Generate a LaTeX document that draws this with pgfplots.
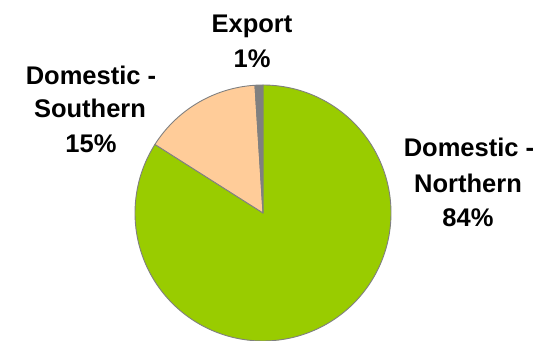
\documentclass[border=0pt]{standalone}
\usepackage{pgfplots}
\usepackage{pgfplotstable}
\pgfplotsset{compat=1.18}
\usepackage{fontspec}
\setmainfont{Liberation Sans}
\definecolor{cNorth}{RGB}{153,204,0}
\definecolor{cSouth}{RGB}{255,204,153}
\definecolor{cExport}{RGB}{128,128,128}
\definecolor{cEdge}{RGB}{128,128,128}
\pgfplotstableread{
label value
Northern 84
Southern 15
Export 1
}\piedata
\tikzset{lbl/.style={font=\fontsize{25.5bp}{35bp}\selectfont\bfseries, inner sep=0pt, anchor=base}}
\begin{document}
\begin{tikzpicture}
\pgfplotstablegetelem{0}{value}\of\piedata \let\vN\pgfplotsretval
\pgfplotstablegetelem{1}{value}\of\piedata \let\vS\pgfplotsretval
\pgfplotstablegetelem{2}{value}\of\piedata \let\vE\pgfplotsretval
\pgfmathsetmacro{\aA}{90}
\pgfmathsetmacro{\aB}{90-3.6*\vN}
\pgfmathsetmacro{\aC}{\aB-3.6*\vS}
\pgfmathsetmacro{\aD}{\aC-3.6*\vE}
\begin{axis}[
  width=541bp, height=341bp, scale only axis,
  xmin=0, xmax=541, ymin=0, ymax=341,
  hide axis, clip=false,
]
\addplot[fill=cNorth, draw=cEdge, line width=0.9bp, domain=\aB:\aA, samples=200, variable=\t, line join=round]
  ({263+128*cos(\t)},{128+128*sin(\t)}) -- (263,128) -- cycle;
\addplot[fill=cSouth, draw=cEdge, line width=0.9bp, domain=\aC:\aB, samples=60, variable=\t, line join=round]
  ({263+128*cos(\t)},{128+128*sin(\t)}) -- (263,128) -- cycle;
\addplot[fill=cExport, draw=cEdge, line width=0.9bp, domain=\aD:\aC, samples=10, variable=\t, line join=round]
  ({263+128*cos(\t)},{128+128*sin(\t)}) -- (263,128) -- cycle;
% labels
\node[lbl] at (252,{341-33}) {Export};
\node[lbl] at (252,{341-68}) {1\%};
\node[lbl] at (91,{341-85}) {Domestic -};
\node[lbl] at (90,{341-118}) {Southern};
\node[lbl] at (91,{341-153}) {15\%};
\node[lbl] at (469,{341-157}) {Domestic -};
\node[lbl] at (468,{341-193}) {Northern};
\node[lbl] at (468,{341-227}) {84\%};
\end{axis}
\pgfresetboundingbox
\useasboundingbox (current axis.south west) rectangle (current axis.north east);
\end{tikzpicture}
\end{document}
